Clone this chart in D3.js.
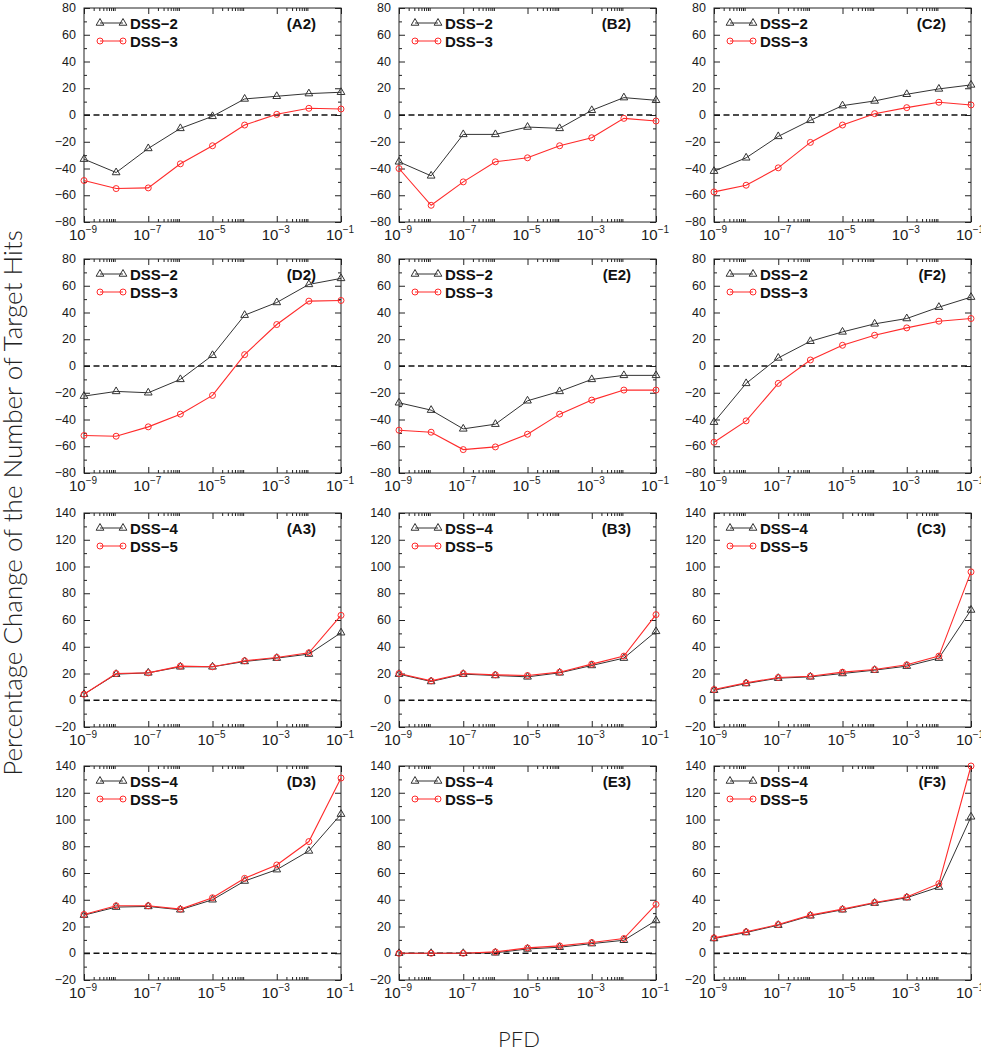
<!DOCTYPE html>
<html>
<head>
<meta charset="utf-8">
<script src="https://cdn.jsdelivr.net/npm/d3@7/dist/d3.min.js"></script>
<style>
    html, body { margin: 0; padding: 0; background: #ffffff; }
    svg { display: block; }
</style>
</head>
<body>
<div id="chart"></div>
<script>
// значения PFD (ось X, логарифмическая)
var pfd = [1e-9, 1e-8, 1e-7, 1e-6, 1e-5, 1e-4, 1e-3, 1e-2, 1e-1];
var xTickValues = [1e-9, 1e-7, 1e-5, 1e-3, 1e-1];
var xTickExponents = ["\u22129", "\u22127", "\u22125", "\u22123", "\u22121"];
var yTicksUpper = [-80, -60, -40, -20, 0, 20, 40, 60, 80];
var yTicksLower = [-20, 0, 20, 40, 60, 80, 100, 120, 140];

var upperNames = ["DSS\u22122", "DSS\u22123"];
var lowerNames = ["DSS\u22124", "DSS\u22125"];
var panelLabels = ["(A2)", "(B2)", "(C2)", "(D2)", "(E2)", "(F2)",
                   "(A3)", "(B3)", "(C3)", "(D3)", "(E3)", "(F3)"];

// верхние две строки: DSS-2 / DSS-3
var a2Dss2 = [-33, -43, -25, -10, -1, 12, 14, 16, 17];
var a2Dss3 = [-49, -55, -54.5, -36.5, -23, -7.5, 0.5, 5, 4.5];
var b2Dss2 = [-35, -45.5, -14.5, -14.5, -9, -10, 3.5, 13, 11];
var b2Dss3 = [-40, -67.5, -50, -35, -32, -23, -17, -2.5, -4.5];
var c2Dss2 = [-42, -32, -16, -4, 7, 10.5, 15.5, 19.5, 22.5];
var c2Dss3 = [-57.5, -52.5, -39.5, -20.5, -7.5, 1, 5.5, 9.5, 7.5];
var d2Dss2 = [-22.5, -19, -20, -10, 8, 38, 47.5, 61, 65.5];
var d2Dss3 = [-52, -52.5, -45.5, -36, -22, 8.5, 31, 48.5, 49];
var e2Dss2 = [-27.5, -33, -47, -43.5, -26, -19, -10, -7, -7];
var e2Dss3 = [-48, -49.5, -62.5, -60.5, -51, -36, -25.5, -18, -18];
var f2Dss2 = [-42, -13, 6, 18.5, 25.5, 31.5, 35.5, 44, 51.5];
var f2Dss3 = [-57, -41, -13, 4.5, 15.5, 23, 28.5, 33.5, 35.5];

// нижние две строки: DSS-4 / DSS-5
var a3Dss4 = [4.5, 19.5, 20.5, 25, 25, 29, 31.5, 34.5, 50.5];
var a3Dss5 = [4.5, 20, 20.5, 25.5, 25, 29.5, 32, 35.5, 63.5];
var b3Dss4 = [19.5, 14, 19.5, 18.5, 17.5, 20.5, 26, 31.5, 51.5];
var b3Dss5 = [20, 14.5, 20, 19, 18.5, 21, 27, 33, 64];
var c3Dss4 = [7.5, 12.5, 16.5, 17.5, 20, 22.5, 25.5, 31.5, 67.5];
var c3Dss5 = [8, 13, 17, 18, 21, 23, 26.5, 33, 96];
var d3Dss4 = [28.5, 34.5, 35, 32.5, 40, 54, 62.5, 76.5, 104];
var d3Dss5 = [29, 35.5, 35.5, 33, 41.5, 56, 66, 83.5, 131];
var e3Dss4 = [0, 0, 0, 0.3, 3.2, 4.5, 7.2, 9.7, 24.5];
var e3Dss5 = [0, 0, 0, 1, 4, 5.5, 8, 11, 36.5];
var f3Dss4 = [11, 15.5, 21, 28, 32.5, 37.5, 41.5, 49.5, 102];
var f3Dss5 = [11.5, 16, 21.5, 28.5, 33, 38, 42, 52, 140];

/**
 * Рисует сетку панелей 4x3 в стиле gnuplot.
 */
(function () {
    var width = 981,
        height = 1050,
        colLeft = [84, 399, 714],
        rowTop = [8, 259, 513, 766],
        panelW = 257,
        panelH = 214,
        blackColor = "#333333",
        redColor = "#ff2a2a",
        textColor = "#1a1a1a",
        tickFont = "'Liberation Sans', Arial, sans-serif";

    var seriesByPanel = [
        [a2Dss2, a2Dss3], [b2Dss2, b2Dss3], [c2Dss2, c2Dss3],
        [d2Dss2, d2Dss3], [e2Dss2, e2Dss3], [f2Dss2, f2Dss3],
        [a3Dss4, a3Dss5], [b3Dss4, b3Dss5], [c3Dss4, c3Dss5],
        [d3Dss4, d3Dss5], [e3Dss4, e3Dss5], [f3Dss4, f3Dss5]
    ];

    var svg = d3.select("#chart")
        .append("svg")
        .attr("width", width)
        .attr("height", height);

    // малые деления оси X: 2..9 в нечётных декадах
    var xMinor = [];
    [-9, -7, -5, -3].forEach(function (k) {
        for (var m = 2; m <= 9; m += 1) {
            xMinor.push(m * Math.pow(10, k));
        }
    });

    var x = d3.scaleLog().domain([1e-9, 1e-1]).range([0, panelW]);

    seriesByPanel.forEach(function (pair, i) {
        var row = Math.floor(i / 3),
            col = i % 3,
            upper = row < 2,
            yTicks = upper ? yTicksUpper : yTicksLower,
            names = upper ? upperNames : lowerNames,
            yMinor = d3.range(yTicks[0] + 10, yTicks[yTicks.length - 1], 20);

        var y = d3.scaleLinear()
            .domain([yTicks[0], yTicks[yTicks.length - 1]])
            .range([panelH, 0]);

        var g = svg.append("g")
            .attr("transform", "translate(" + colLeft[col] + "," + rowTop[row] + ")");

        // деления осей (внутрь)
        function tickAxis(axis, values, size, translate) {
            var a = g.append("g")
                .attr("transform", translate || null)
                .call(axis.tickValues(values).tickSize(size).tickSizeOuter(0).tickFormat(""));
            a.select(".domain").remove();
            a.selectAll("line").attr("stroke", "#222").attr("stroke-width", 1);
        }

        tickAxis(d3.axisLeft(y), yTicks, -6);
        tickAxis(d3.axisLeft(y), yMinor, -3);
        tickAxis(d3.axisRight(y), yTicks, -6, "translate(" + panelW + ",0)");
        tickAxis(d3.axisRight(y), yMinor, -3, "translate(" + panelW + ",0)");
        tickAxis(d3.axisBottom(x), xTickValues, -6, "translate(0," + panelH + ")");
        tickAxis(d3.axisBottom(x), xMinor, -3, "translate(0," + panelH + ")");
        tickAxis(d3.axisTop(x), xTickValues, -6);
        tickAxis(d3.axisTop(x), xMinor, -3);

        // подписи оси Y
        g.selectAll(".ylab")
            .data(yTicks)
            .enter()
            .append("text")
            .attr("x", -8)
            .attr("y", function (d) { return y(d) + 4; })
            .attr("text-anchor", "end")
            .attr("font-family", tickFont)
            .attr("font-size", 12.5)
            .attr("fill", textColor)
            .text(function (d) { return d < 0 ? "\u2212" + Math.abs(d) : d; });

        // подписи оси X вида 10^-n
        var xl = g.selectAll(".xlab")
            .data(xTickValues)
            .enter()
            .append("text")
            .attr("x", function (d) { return x(d) - 1; })
            .attr("y", panelH + 18)
            .attr("text-anchor", "middle")
            .attr("font-family", tickFont)
            .attr("font-size", 15)
            .attr("fill", textColor);
        xl.append("tspan").text("10");
        xl.append("tspan")
            .attr("dy", -7)
            .attr("font-size", 10)
            .text(function (d, j) { return xTickExponents[j]; });

        // нулевая линия
        g.append("line")
            .attr("x1", 0)
            .attr("x2", panelW)
            .attr("y1", y(0))
            .attr("y2", y(0))
            .attr("stroke", "#111")
            .attr("stroke-width", 1.4)
            .attr("stroke-dasharray", "6,3.5");

        // рамка
        g.append("rect")
            .attr("width", panelW)
            .attr("height", panelH)
            .attr("fill", "none")
            .attr("stroke", "#222")
            .attr("stroke-width", 1);

        var line = d3.line()
            .x(function (d, j) { return x(pfd[j]); })
            .y(function (d) { return y(d); });

        var tri = d3.symbol().type(d3.symbolTriangle).size(26);

        function drawTriangles(sel, data, px, py) {
            sel.selectAll(null)
                .data(data)
                .enter()
                .append("path")
                .attr("d", tri)
                .attr("transform", function (d, j) {
                    return "translate(" + px(d, j) + "," + py(d, j) + ")";
                })
                .attr("fill", "none")
                .attr("stroke", blackColor)
                .attr("stroke-width", 1);
        }

        function drawCircles(sel, data, px, py) {
            sel.selectAll(null)
                .data(data)
                .enter()
                .append("circle")
                .attr("cx", px)
                .attr("cy", py)
                .attr("r", 3)
                .attr("fill", "none")
                .attr("stroke", redColor)
                .attr("stroke-width", 1);
        }

        var px = function (d, j) { return x(pfd[j]); },
            py = function (d) { return y(d); };

        // серия 1 (треугольники)
        var s1 = g.append("g");
        s1.append("path")
            .datum(pair[0])
            .attr("d", line)
            .attr("fill", "none")
            .attr("stroke", blackColor)
            .attr("stroke-width", 1);
        drawTriangles(s1, pair[0], px, py);

        // серия 2 (кружки)
        var s2 = g.append("g");
        s2.append("path")
            .datum(pair[1])
            .attr("d", line)
            .attr("fill", "none")
            .attr("stroke", redColor)
            .attr("stroke-width", 1.1);
        drawCircles(s2, pair[1], px, py);

        // легенда
        var legend = g.append("g").attr("transform", "translate(16,15)");
        [0, 1].forEach(function (k) {
            var ly = k * 18,
                lg = legend.append("g");
            lg.append("line")
                .attr("x1", 0).attr("x2", 23)
                .attr("y1", ly).attr("y2", ly)
                .attr("stroke", k === 0 ? blackColor : redColor)
                .attr("stroke-width", 1);
            var ends = [0, 23];
            if (k === 0) {
                drawTriangles(lg, ends, function (d) { return d; }, function () { return ly; });
            } else {
                drawCircles(lg, ends, function (d) { return d; }, function () { return ly; });
            }
            lg.append("text")
                .attr("x", 30)
                .attr("y", ly + 5.5)
                .attr("font-family", tickFont)
                .attr("font-weight", "bold")
                .attr("font-size", 15)
                .attr("fill", "#111")
                .text(names[k]);
        });

        g.append("text")
            .attr("x", panelW - 25)
            .attr("y", 21)
            .attr("text-anchor", "end")
            .attr("font-family", tickFont)
            .attr("font-weight", "bold")
            .attr("font-size", 15)
            .attr("fill", "#111")
            .text(panelLabels[i]);
    });

    // общие подписи осей
    svg.append("text")
        .attr("transform", "translate(22,503) rotate(-90)")
        .attr("text-anchor", "middle")
        .attr("font-family", "Lato, 'Open Sans', sans-serif")
        .attr("font-weight", 300)
        .attr("font-size", 26)
        .attr("fill", "#222")
        .text("Percentage Change of the Number of Target Hits");

    svg.append("text")
        .attr("x", 519)
        .attr("y", 1047)
        .attr("text-anchor", "middle")
        .attr("font-family", "Lato, 'Open Sans', sans-serif")
        .attr("font-weight", 300)
        .attr("font-size", 22)
        .attr("fill", "#222")
        .text("PFD");
}());
</script>
</body>
</html>
